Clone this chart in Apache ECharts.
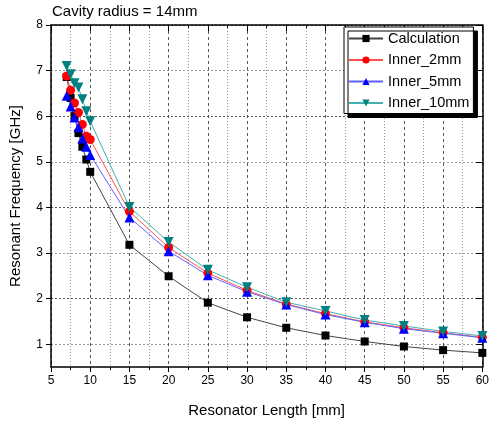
<!DOCTYPE html>
<html>
<head>
<meta charset="utf-8">
<script src="https://cdn.jsdelivr.net/npm/echarts@6/dist/echarts.min.js"></script>
<style>
  html, body { margin: 0; padding: 0; background: #fff; }
  #chart { width: 492px; height: 423px; }
</style>
</head>
<body>
<div id="chart"></div>
<script>
// resonator length [mm]
const lengths = [7, 7.5, 8, 8.5, 9, 9.5, 10, 15, 20, 25, 30, 35, 40, 45, 50, 55, 60];
// resonant frequency [GHz]
const calc    = [6.86, 6.40, 6.00, 5.63, 5.33, 5.05, 4.78, 3.18, 2.49, 1.91, 1.59, 1.36, 1.19, 1.06, 0.95, 0.87, 0.81];
const inner2  = [6.88, 6.57, 6.29, 6.08, 5.82, 5.56, 5.49, 3.91, 3.12, 2.56, 2.18, 1.88, 1.67, 1.49, 1.36, 1.25, 1.15];
const inner5  = [6.45, 6.21, 5.97, 5.76, 5.51, 5.33, 5.15, 3.78, 3.04, 2.51, 2.15, 1.87, 1.65, 1.48, 1.34, 1.24, 1.14];
const inner10 = [7.10, 6.92, 6.72, 6.63, 6.37, 6.11, 5.89, 4.01, 3.24, 2.63, 2.25, 1.92, 1.73, 1.53, 1.40, 1.28, 1.18];
const yTicks = [1, 2, 3, 4, 5, 6, 7, 8];

const chart = echarts.init(document.getElementById('chart'));

function pairs(ys) {
  return lengths.map((x, i) => [x, ys[i]]);
}

function mkSeries(name, ys, color, lineColor, symbol, size) {
  return {
    name: name,
    type: 'line',
    data: pairs(ys),
    symbol: symbol,
    symbolSize: size,
    showAllSymbol: true,
    itemStyle: { color: color },
    lineStyle: { color: lineColor, width: 1 },
    emphasis: { disabled: true },
    animation: false
  };
}

const font = 'Arial, "Liberation Sans", sans-serif';

const option = {
  animation: false,
  grid: { left: 51, right: 7, top: 25, bottom: 56 },
  title: {
    text: 'Cavity radius = 14mm',
    left: 52, top: 4, padding: 0,
    textStyle: { fontFamily: font, fontSize: 15, fontWeight: 'normal', color: '#000' }
  },
  legend: {
    left: 344, top: 27,
    orient: 'vertical',
    itemWidth: 34, itemHeight: 9, itemGap: 6.5,
    padding: [4, 4, 3, 4],
    backgroundColor: '#fff',
    borderColor: '#000', borderWidth: 1,
    shadowColor: '#000', shadowOffsetX: 4, shadowOffsetY: 4, shadowBlur: 0,
    textStyle: { fontFamily: font, fontSize: 14.5, color: '#000' },
    data: ['Calculation', 'Inner_2mm', 'Inner_5mm', 'Inner_10mm']
  },
  xAxis: [{
    type: 'value', min: 5, max: 60, interval: 5,
    name: 'Resonator Length [mm]', nameLocation: 'middle', nameGap: 36,
    nameTextStyle: { fontFamily: font, fontSize: 15, color: '#000' },
    axisLine: { lineStyle: { color: '#000', width: 1.5 } },
    axisTick: { inside: false, length: 5, lineStyle: { color: '#000' } },
    minorTick: { show: true, splitNumber: 2, length: 3, lineStyle: { color: '#000' } },
    axisLabel: { fontFamily: font, fontSize: 12, color: '#000', margin: 8 },
    splitLine: { show: true, lineStyle: { color: '#555', type: [3, 3], width: 1 } },
    minorSplitLine: { show: true, lineStyle: { color: '#999', type: [1, 2], width: 1 } }
  }, {
    type: 'value', min: 5, max: 60, interval: 5, position: 'top',
    axisLine: { lineStyle: { color: '#000', width: 1.5 } },
    axisTick: { inside: true, length: 6, lineStyle: { color: '#000' } },
    minorTick: { show: true, splitNumber: 2, length: 3, lineStyle: { color: '#000' } },
    axisLabel: { show: false },
    splitLine: { show: false }
  }],
  yAxis: [{
    type: 'value', min: 0.5, max: 8, interval: 0.5,
    name: 'Resonant Frequency [GHz]', nameLocation: 'middle', nameGap: 28,
    nameTextStyle: { fontFamily: font, fontSize: 15, color: '#000' },
    axisLine: { show: true, lineStyle: { color: '#000', width: 1.5 } },
    axisTick: { show: true, length: 5, customValues: yTicks, lineStyle: { color: '#000' } },
    axisLabel: { fontFamily: font, fontSize: 12, color: '#000', margin: 8, customValues: yTicks },
    splitLine: { show: true, lineStyle: { color: ['#999', '#555'], type: [2, 2], width: 1 } }
  }, {
    type: 'value', min: 0.5, max: 8, interval: 0.5, position: 'right',
    axisLine: { show: true, lineStyle: { color: '#000', width: 1.5 } },
    axisTick: { show: true, inside: true, length: 6, customValues: yTicks, lineStyle: { color: '#000' } },
    axisLabel: { show: false },
    splitLine: { show: false }
  }],
  series: [
    mkSeries('Calculation', calc, '#000000', '#444444', 'rect', 8),
    mkSeries('Inner_2mm', inner2, '#ff0000', '#ff5050', 'circle', 9),
    mkSeries('Inner_5mm', inner5, '#0000ff', '#6060ff', 'triangle', 10),
    mkSeries('Inner_10mm', inner10, '#008080', '#40b0b0', 'path://M0,0 L10,0 L5,9 Z', 10)
  ]
};

chart.setOption(option);
window.addEventListener('resize', function () {
  chart.resize();
});
</script>
</body>
</html>
